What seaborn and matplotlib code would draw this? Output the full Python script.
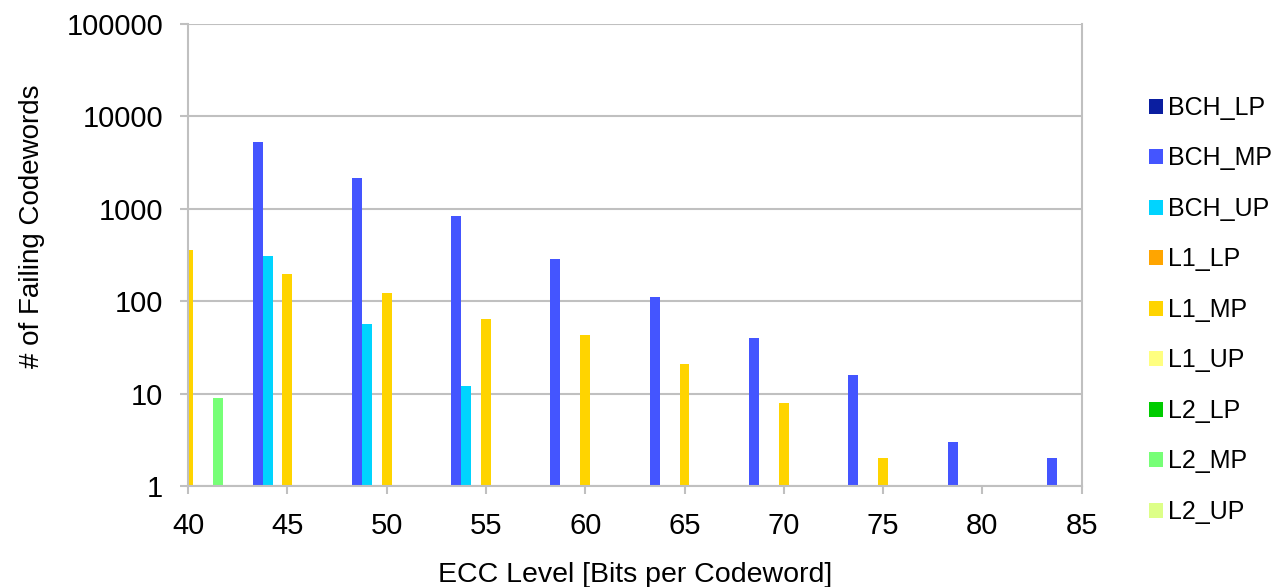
import matplotlib
matplotlib.use("Agg")
import matplotlib.pyplot as plt
from matplotlib.patches import Patch
import pandas as pd
import seaborn as sns

# series in legend order and their colours
SERIES = ["BCH_LP", "BCH_MP", "BCH_UP", "L1_LP", "L1_MP", "L1_UP", "L2_LP", "L2_MP", "L2_UP"]
COLORS = ["#0A1EA0", "#4455FF", "#00D4FF", "#FFA500", "#FFD400", "#FFFF80", "#00CC00", "#77FF77", "#DDFF88"]

# bar positions (ECC level) and failing codeword counts, per series that has data
BCH_MP_X = [43.5, 48.5, 53.5, 58.5, 63.5, 68.5, 73.5, 78.5, 83.5]
BCH_MP_Y = [5300, 2170, 830, 285, 110, 40, 16, 3, 2]
BCH_UP_X = [44, 49, 54]
BCH_UP_Y = [310, 57, 12]
L1_MP_X = [40, 45, 50, 55, 60, 65, 70, 75]
L1_MP_Y = [360, 195, 122, 65, 43, 21, 8, 2]
L2_MP_X = [41.5]
L2_MP_Y = [9]

X_TICKS = [40, 45, 50, 55, 60, 65, 70, 75, 80, 85]
Y_TICKS = [1, 10, 100, 1000, 10000, 100000]

frames = []
for name, xs, ys in [("BCH_MP", BCH_MP_X, BCH_MP_Y), ("BCH_UP", BCH_UP_X, BCH_UP_Y),
                     ("L1_MP", L1_MP_X, L1_MP_Y), ("L2_MP", L2_MP_X, L2_MP_Y)]:
    frames.append(pd.DataFrame({"ecc": xs, "count": ys, "series": name}))
df = pd.concat(frames, ignore_index=True)

sns.set_theme(style="white")
plt.rcParams["font.family"] = ["Liberation Sans", "DejaVu Sans"]
plt.rcParams["text.color"] = "black"
plt.rcParams["axes.labelcolor"] = "black"

fig = plt.figure(figsize=(12.8, 5.87), dpi=100)
ax = fig.add_axes([0.147, 0.172, 0.698, 0.787])

sns.barplot(data=df, x="ecc", y="count", hue="series", hue_order=SERIES,
            palette=dict(zip(SERIES, COLORS)), saturation=1, native_scale=True,
            dodge=False, width=1.0, errorbar=None, linewidth=0, legend=False, ax=ax)

ax.set_yscale("log")
ax.set_ylim(1, 100000)
ax.set_xlim(40, 85)
ax.set_xticks(X_TICKS)
ax.set_xticklabels([str(t) for t in X_TICKS])
ax.set_yticks(Y_TICKS)
ax.set_yticklabels([str(t) for t in Y_TICKS])
ax.minorticks_off()
ax.yaxis.grid(True, color="#C0C0C0", linewidth=1.5)
ax.set_axisbelow(True)
for side in ["left", "right", "bottom"]:
    ax.spines[side].set_visible(True)
    ax.spines[side].set_color("#C0C0C0")
    ax.spines[side].set_linewidth(1.5)
ax.spines["top"].set_visible(False)
ax.tick_params(axis="both", which="major", direction="out", length=6, width=1.5,
               color="#C0C0C0", labelsize=21, labelcolor="black")
ax.tick_params(axis="x", bottom=True, pad=13)
ax.tick_params(axis="y", left=True, pad=12)

ax.set_xlabel("ECC Level [Bits per Codeword]", fontsize=20.5, color="black")
ax.xaxis.set_label_coords(0.5, -0.165)
ax.set_ylabel("# of Failing Codewords", fontsize=20, color="black")
ax.yaxis.set_label_coords(-0.16, 0.562)

handles = [Patch(facecolor=c, edgecolor="none") for c in COLORS]
ax.legend(handles, SERIES, loc="upper left", bbox_to_anchor=(1.064, 0.866), frameon=False,
          fontsize=18, handlelength=0.56, handleheight=0.56, handletextpad=0.2,
          labelspacing=1.06, borderaxespad=0)

fig.savefig("out.png", dpi=100, facecolor="white")
